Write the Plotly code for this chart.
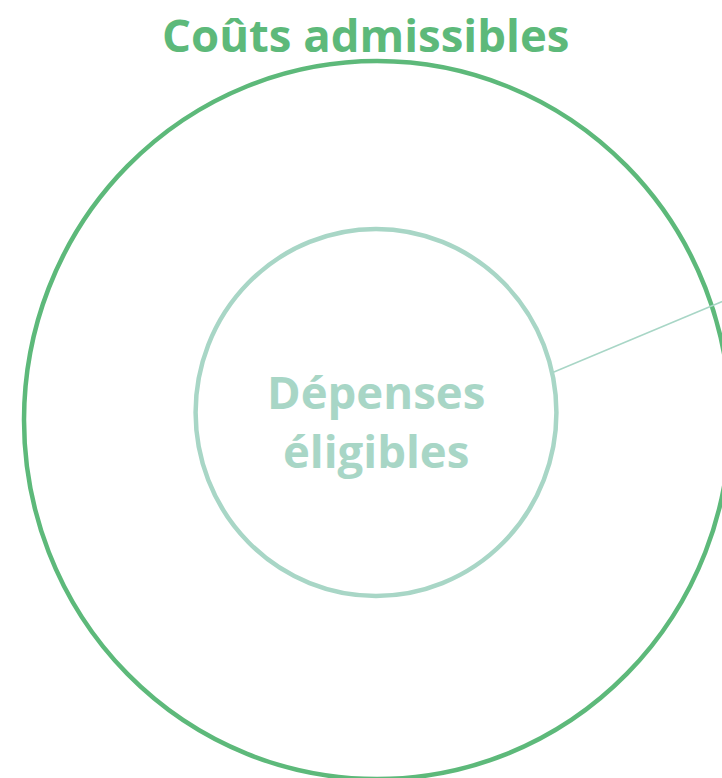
import plotly.graph_objects as go
import math

# ---- data ----
circle_labels = ["Coûts admissibles", "Dépenses éligibles"]
circle_cx = [0.0, -0.003]
circle_cy = [0.0, 0.021]
circle_r = [1.0, 0.511]
circle_colors = ["#5DB97A", "#A8D6C6"]

leader_angle_deg = 12.5
leader_end = (1.15, 0.401)

title_pos = (-0.034, 1.075)
inner_label_pos = (-0.003, 0.0)

fig = go.Figure()

# circles
for cx, cy, r, col in zip(circle_cx, circle_cy, circle_r, circle_colors):
    fig.add_shape(type="circle", xref="x", yref="y",
                  x0=cx - r, x1=cx + r, y0=cy - r, y1=cy + r,
                  line=dict(color=col, width=4.5), fillcolor="rgba(0,0,0,0)")

# leader line from inner circle outward
a = math.radians(leader_angle_deg)
sx = circle_cx[1] + circle_r[1] * math.cos(a)
sy = circle_cy[1] + circle_r[1] * math.sin(a)
fig.add_shape(type="line", xref="x", yref="y", x0=sx, y0=sy,
              x1=leader_end[0], y1=leader_end[1],
              line=dict(color=circle_colors[1], width=1.5))

# labels
fig.add_annotation(x=title_pos[0], y=title_pos[1], xref="x", yref="y",
                   text="<b>" + circle_labels[0] + "</b>", showarrow=False,
                   font=dict(family="Open Sans", size=45.5, color=circle_colors[0]),
                   xanchor="center", yanchor="middle")
fig.add_annotation(x=inner_label_pos[0], y=inner_label_pos[1], xref="x", yref="y",
                   text="<b>Dépenses<br>éligibles</b>", showarrow=False,
                   font=dict(family="Open Sans", size=45.5, color=circle_colors[1]),
                   xanchor="center", yanchor="middle")

fig.update_xaxes(range=[-1.068, 0.977], visible=False, showgrid=False, zeroline=False)
fig.update_yaxes(range=[-0.997, 1.170], visible=False, showgrid=False, zeroline=False)
fig.update_layout(width=722, height=778, margin=dict(l=0, r=0, t=0, b=0),
                  paper_bgcolor="white", plot_bgcolor="white", showlegend=False,
                  hovermode=False, dragmode=False)

fig.write_html("out.html", config={"displayModeBar": False, "staticPlot": True},
               post_script="document.body.style.margin='0px';document.body.style.overflow='hidden';")
